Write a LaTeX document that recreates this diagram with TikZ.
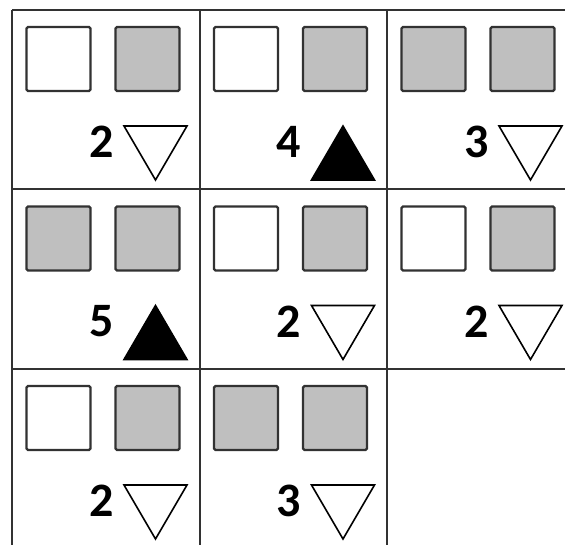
\documentclass[tikz,border=0pt]{standalone}
\usepackage{fontspec}
\setsansfont{Carlito}
\usetikzlibrary{positioning,calc}
\definecolor{BoxGray}{RGB}{191,191,191}
\definecolor{LineGray}{RGB}{50,50,50}
\tikzset{
	grid line/.style={draw=LineGray,line width=2.6pt},
	sq/.style={draw=LineGray,line width=2.2pt,rounded corners=1.5pt,minimum size=64pt,inner sep=0pt},
	score/.style={font=\sffamily\bfseries\fontsize{48}{48}\selectfont,inner sep=0pt,anchor=east},
	tri/.style={draw=black,line width=1.6pt,line join=miter},
}
\begin{document}
\begin{tikzpicture}[x=1pt,y=-1pt]
	\useasboundingbox (0,0) rectangle (565,544);
	\clip (0,0) rectangle (565,544);
	\fill[white] (0,0) rectangle (565,544);
	% grid
	\foreach \x in {12,200,387,575}
	\draw[grid line] (\x,10) -- (\x,560);
	\foreach \y in {10,189,369,548}
	\draw[grid line] (12,\y) -- (580,\y);
	% cells: column/row/left box/number/triangle base/apex offset/triangle fill
	\foreach \c/\r/\fa/\n/\by/\dy/\tf [count=\i] in {
		0/0/white/2/116/54/white, 1/0/white/4/170/-54/black, 2/0/BoxGray/3/116/54/white,
		0/1/BoxGray/5/170/-54/black, 1/1/white/2/116/54/white, 2/1/white/2/116/54/white,
		0/2/white/2/116/54/white, 1/2/BoxGray/3/116/54/white}{
		\coordinate (c\i) at ({12+187.5*\c},{10+179.5*\r});
		\node[sq,fill=\fa] (a\i) at ($(c\i)+(46.5,49)$) {};
		\node[sq,fill=BoxGray] (b\i) at ($(c\i)+(135.5,49)$) {};
		\node[score] (n\i) at ($(c\i)+(102,132)$) {\n};
		\draw[tri,fill=\tf] ($(c\i)+(112,\by)$) -- ++(63,0) -- ++(-31.5,\dy) -- cycle;
	}
\end{tikzpicture}
\end{document}
